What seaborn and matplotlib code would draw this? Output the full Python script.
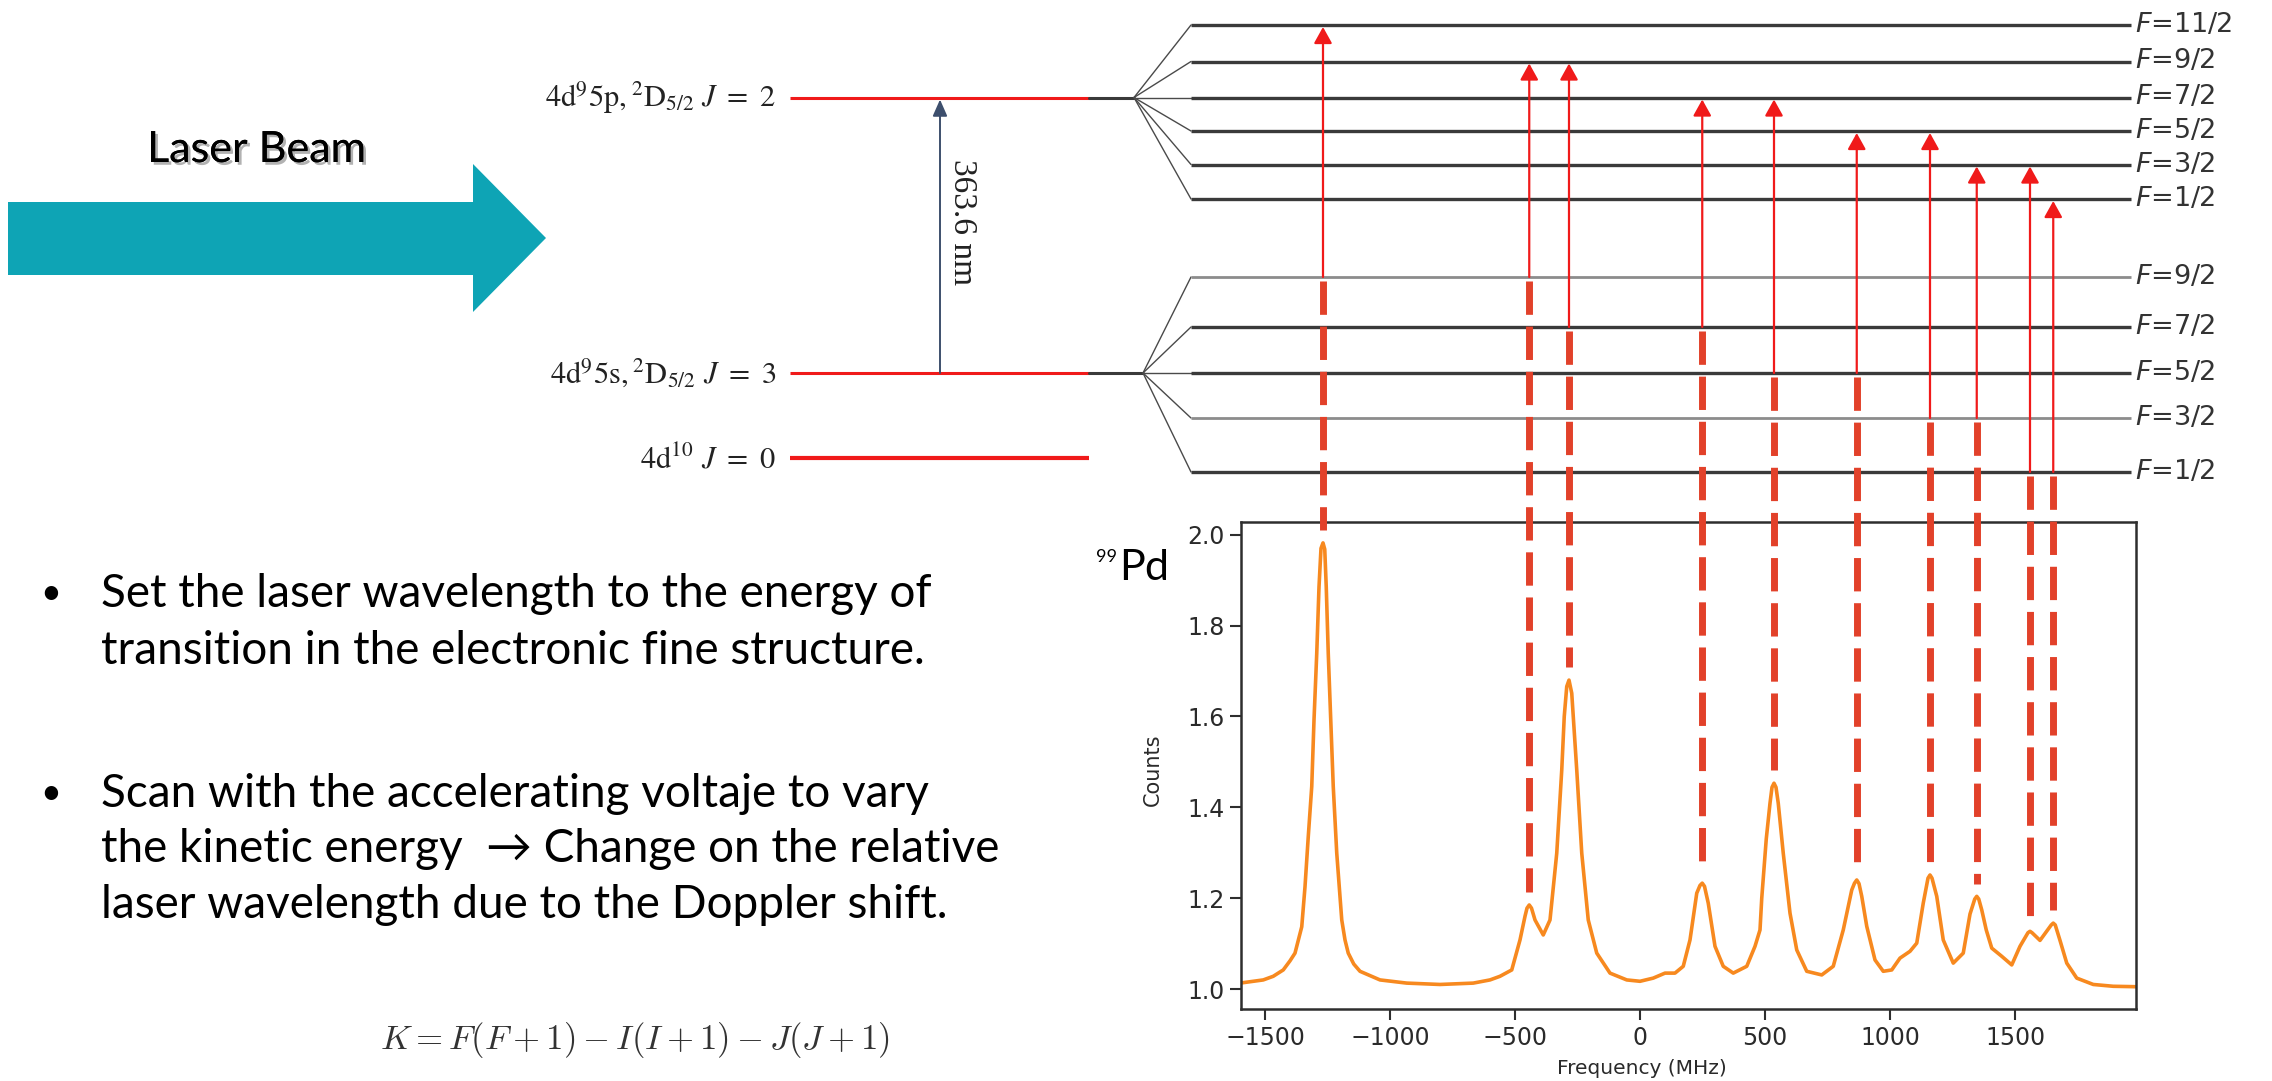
import matplotlib
matplotlib.use("Agg")
import matplotlib.pyplot as plt
import matplotlib.patheffects as pe
from matplotlib.patches import Polygon
import seaborn as sns
import pandas as pd

# ---------------------------------------------------------------- data
# 99Pd resonance spectrum: frequency offset (MHz) and normalised counts
freq_mhz = [-1600, -1507, -1467, -1427, -1400, -1380, -1353, -1340, -1327, -1313,
            -1304, -1293, -1284, -1276, -1268, -1261, -1255, -1247, -1237, -1227,
            -1213, -1193, -1180, -1167, -1145, -1120, -1040, -933, -800, -667,
            -600, -560, -513, -480, -460, -452, -443, -434, -420, -387,
            -360, -333, -313, -303, -293, -284, -273, -253, -233, -207,
            -173, -120, -53, 0, 53, 100, 140, 173, 200, 227,
            240, 249, 258, 273, 300, 333, 373, 427, 460, 480,
            487, 505, 520, 528, 536, 544, 553, 573, 600, 627,
            667, 727, 773, 813, 847, 858, 867, 876, 887, 907,
            940, 973, 1007, 1040, 1080, 1107, 1133, 1152, 1160, 1168,
            1187, 1213, 1253, 1293, 1320, 1339, 1347, 1355, 1367, 1385,
            1407, 1447, 1487, 1520, 1552, 1560, 1568, 1600, 1645, 1653,
            1661, 1680, 1707, 1747, 1813, 1893, 1990]
counts = [1.013, 1.020, 1.028, 1.042, 1.062, 1.079, 1.137, 1.225, 1.335, 1.446,
          1.592, 1.739, 1.885, 1.970, 1.982, 1.968, 1.885, 1.739, 1.592, 1.446,
          1.299, 1.152, 1.108, 1.079, 1.055, 1.039, 1.020, 1.013, 1.010, 1.013,
          1.020, 1.028, 1.042, 1.108, 1.160, 1.178, 1.185, 1.178, 1.152, 1.119,
          1.152, 1.299, 1.482, 1.600, 1.666, 1.680, 1.651, 1.482, 1.299, 1.152,
          1.079, 1.035, 1.020, 1.017, 1.024, 1.035, 1.035, 1.050, 1.108, 1.211,
          1.228, 1.233, 1.226, 1.189, 1.094, 1.050, 1.035, 1.050, 1.094, 1.130,
          1.200, 1.330, 1.409, 1.444, 1.453, 1.444, 1.409, 1.299, 1.167, 1.086,
          1.039, 1.031, 1.050, 1.130, 1.218, 1.233, 1.240, 1.232, 1.204, 1.138,
          1.064, 1.039, 1.042, 1.068, 1.083, 1.101, 1.189, 1.244, 1.251, 1.244,
          1.204, 1.108, 1.057, 1.079, 1.165, 1.198, 1.204, 1.198, 1.174, 1.130,
          1.090, 1.072, 1.053, 1.094, 1.124, 1.127, 1.124, 1.107, 1.141, 1.145,
          1.141, 1.107, 1.057, 1.024, 1.010, 1.006, 1.005]

# hyperfine components: peak position and peak height
peak_freq = [-1268, -443, -284, 249, 536, 867, 1160, 1347, 1560, 1653]
peak_counts = [1.982, 1.185, 1.680, 1.233, 1.453, 1.240, 1.251, 1.204, 1.127, 1.145]
# F of the lower and upper level for each component
trans_lower = ["9/2", "9/2", "7/2", "7/2", "5/2", "5/2", "3/2", "3/2", "1/2", "1/2"]
trans_upper = ["11/2", "9/2", "9/2", "7/2", "7/2", "5/2", "5/2", "3/2", "3/2", "1/2"]

upper_F = ["11/2", "9/2", "7/2", "5/2", "3/2", "1/2"]
lower_F = ["9/2", "7/2", "5/2", "3/2", "1/2"]

fine_labels = [r"$\mathrm{4d^{9}5p,{}^{2}D_{5/2}}\ J\ =\ \mathit{2}$",
               r"$\mathrm{4d^{9}5s,{}^{2}D_{5/2}}\ J\ =\ \mathit{3}$",
               r"$\mathrm{4d^{10}}\ J\ =\ \mathit{0}$"]
wavelength_label = "363.6 nm"

x_ticks = [-1500, -1000, -500, 0, 500, 1000, 1500]
y_ticks = [1.0, 1.2, 1.4, 1.6, 1.8, 2.0]

bullet_lines = [["Set the laser wavelength to the energy of",
                 "transition in the electronic fine structure."],
                ["Scan with the accelerating voltaje to vary",
                 "the kinetic energy  \u2192 Change on the relative",
                 "laser wavelength due to the Doppler shift."]]
formula = r"$K = F(F+1) - I(I+1) - J(J+1)$"

# ---------------------------------------------------------------- layout
W, H = 2272, 1081
upper_y = {"11/2": 25, "9/2": 61.5, "7/2": 97.5, "5/2": 131, "3/2": 164.5, "1/2": 199}
lower_y = {"9/2": 277, "7/2": 327, "5/2": 373, "3/2": 418, "1/2": 472}
lower_grey = {"9/2", "3/2"}
fine_y = [97.5, 373, 458]

RED = "#f01a1a"
DASH_RED = "#e2412a"
LEVEL = "#3a3a3a"
ORANGE = "#f7891f"
TEAL = "#0ea4b5"

sns.set_theme(style="white")
plt.rcParams["font.family"] = ["DejaVu Sans"]

fig = plt.figure(figsize=(W / 100, H / 100), dpi=100)

# spectrum panel
ax_l, ax_r, ax_t, ax_b = 1241, 2136, 522, 1009
ax = fig.add_axes([ax_l / W, (H - ax_b) / H, (ax_r - ax_l) / W, (ax_b - ax_t) / H])
spec = pd.DataFrame({"Frequency (MHz)": freq_mhz, "Counts": counts})
sns.lineplot(data=spec, x="Frequency (MHz)", y="Counts", ax=ax,
             color=ORANGE, linewidth=2.6)
ax.set_xlim(-1596, 1984)
ax.set_ylim(0.956, 2.028)
ax.set_xticks(x_ticks)
ax.set_yticks(y_ticks)
ax.set_yticklabels([f"{v:.1f}" for v in y_ticks])
ax.set_xlabel("")
ax.set_ylabel("")
for s in ax.spines.values():
    s.set_color("#2e2e2e")
    s.set_linewidth(1.8)
    s.set_visible(True)
ax.tick_params(axis="both", which="major", length=8, width=1.5, color="#2e2e2e",
               labelsize=17, labelcolor="#2a2a2a", pad=4, bottom=True, left=True)
ax.text((1153 - ax_l) / (ax_r - ax_l), (ax_b - 770) / (ax_b - ax_t), "Counts",
        rotation=90, ha="center", va="center", fontsize=15, color="#2a2a2a",
        transform=ax.transAxes)
ax.text((1642 - ax_l) / (ax_r - ax_l), (ax_b - 1069) / (ax_b - ax_t), "Frequency (MHz)",
        ha="center", va="center", fontsize=14.5, color="#2a2a2a",
        transform=ax.transAxes)

# overlay in pixel coordinates for the level scheme and the slide text
ov = fig.add_axes([0, 0, 1, 1])
ov.set_xlim(0, W)
ov.set_ylim(H, 0)
ov.axis("off")


def to_overlay(x, y):
    disp = ax.transData.transform((x, y))
    return ov.transData.inverted().transform(disp)


# laser beam arrow
ov.add_patch(Polygon([(8, 202), (473, 202), (473, 164), (546, 238),
                      (473, 312), (473, 275), (8, 275)],
                     closed=True, facecolor=TEAL, edgecolor="none"))
ov.text(256, 150, "Laser Beam", ha="center", va="center", fontsize=31,
        family=["Lato", "DejaVu Sans"], color="black",
        path_effects=[pe.withSimplePatchShadow(offset=(2, -2), alpha=0.3),
                      pe.Normal()])

# fine-structure levels
for lab, y in zip(fine_labels, fine_y):
    lw = 3.0 if y == fine_y[2] else 2.2
    ov.plot([790, 1089], [y, y], color=RED, lw=lw, solid_capstyle="butt")
    ov.text(776, y + 10, lab, ha="right", va="baseline", fontsize=22,
            math_fontfamily="stix", color="#222222")

ov.annotate("", xy=(940, 99.5), xytext=(940, 373),
            arrowprops=dict(arrowstyle="-|>,head_length=0.5,head_width=0.22",
                            color="#3d4f6d", lw=1.4, mutation_scale=20,
                            shrinkA=0, shrinkB=0))
ov.text(962, 222, wavelength_label, rotation=-90, ha="center", va="center",
        fontsize=24, family=["Liberation Serif"], color="#222222")

# hyperfine fans
fan_x_end = 1191
level_x_end = 2131
for centre_x, centre_y, levels in [(1134, 97.5, upper_y), (1143, 373, lower_y)]:
    ov.plot([1089, centre_x], [centre_y, centre_y], color=LEVEL, lw=2.2)
    for F, y in levels.items():
        ov.plot([centre_x, fan_x_end], [centre_y, y], color="#4a4a4a", lw=1.0)
        grey = levels is lower_y and F in lower_grey
        ov.plot([fan_x_end, level_x_end], [y, y],
                color="#8c8c8c" if grey else LEVEL, lw=2.0 if grey else 2.4,
                solid_capstyle="butt")
        ov.text(level_x_end + 4, y, rf"$F$=$\mathrm{{{F}}}$", ha="left", va="center",
                fontsize=19.5, color="#333333", math_fontfamily="dejavusans")

# transitions and their links to the spectrum peaks
for f, c, lo, up in zip(peak_freq, peak_counts, trans_lower, trans_upper):
    x_px, y_peak = to_overlay(f, c + 0.028)
    y_lo = lower_y[lo]
    y_up = upper_y[up] + 2
    ov.annotate("", xy=(x_px, y_up), xytext=(x_px, y_lo),
                arrowprops=dict(arrowstyle="-|>,head_length=0.45,head_width=0.25",
                                color=RED, lw=1.6, mutation_scale=22,
                                shrinkA=0, shrinkB=0))
    ov.plot([x_px, x_px], [y_lo + 4, y_peak], color=DASH_RED, lw=5,
            dashes=(4.8, 1.7), solid_capstyle="butt", dash_capstyle="butt")

# isotope label
ov.text(1117, 557, "99", ha="right", va="center", fontsize=13,
        family=["Lato", "DejaVu Sans"], color="black")
ov.text(1119, 580, "Pd", ha="left", va="baseline", fontsize=31,
        family=["Lato", "DejaVu Sans"], color="black")

# bullet text
line_y = [[594, 651], [794, 849, 905]]
for lines, ys in zip(bullet_lines, line_y):
    ov.text(40, ys[0], "\u2022", ha="left", va="center", fontsize=26,
            family=["Lato", "DejaVu Sans"], color="black")
    for txt, y in zip(lines, ys):
        ov.text(101, y, txt, ha="left", va="center", fontsize=33,
                family=["Lato", "DejaVu Sans"], color="black")

ov.text(635, 1040, formula, ha="center", va="center", fontsize=25,
        math_fontfamily="cm", color="#333333")

fig.savefig("out.png", dpi=100)
